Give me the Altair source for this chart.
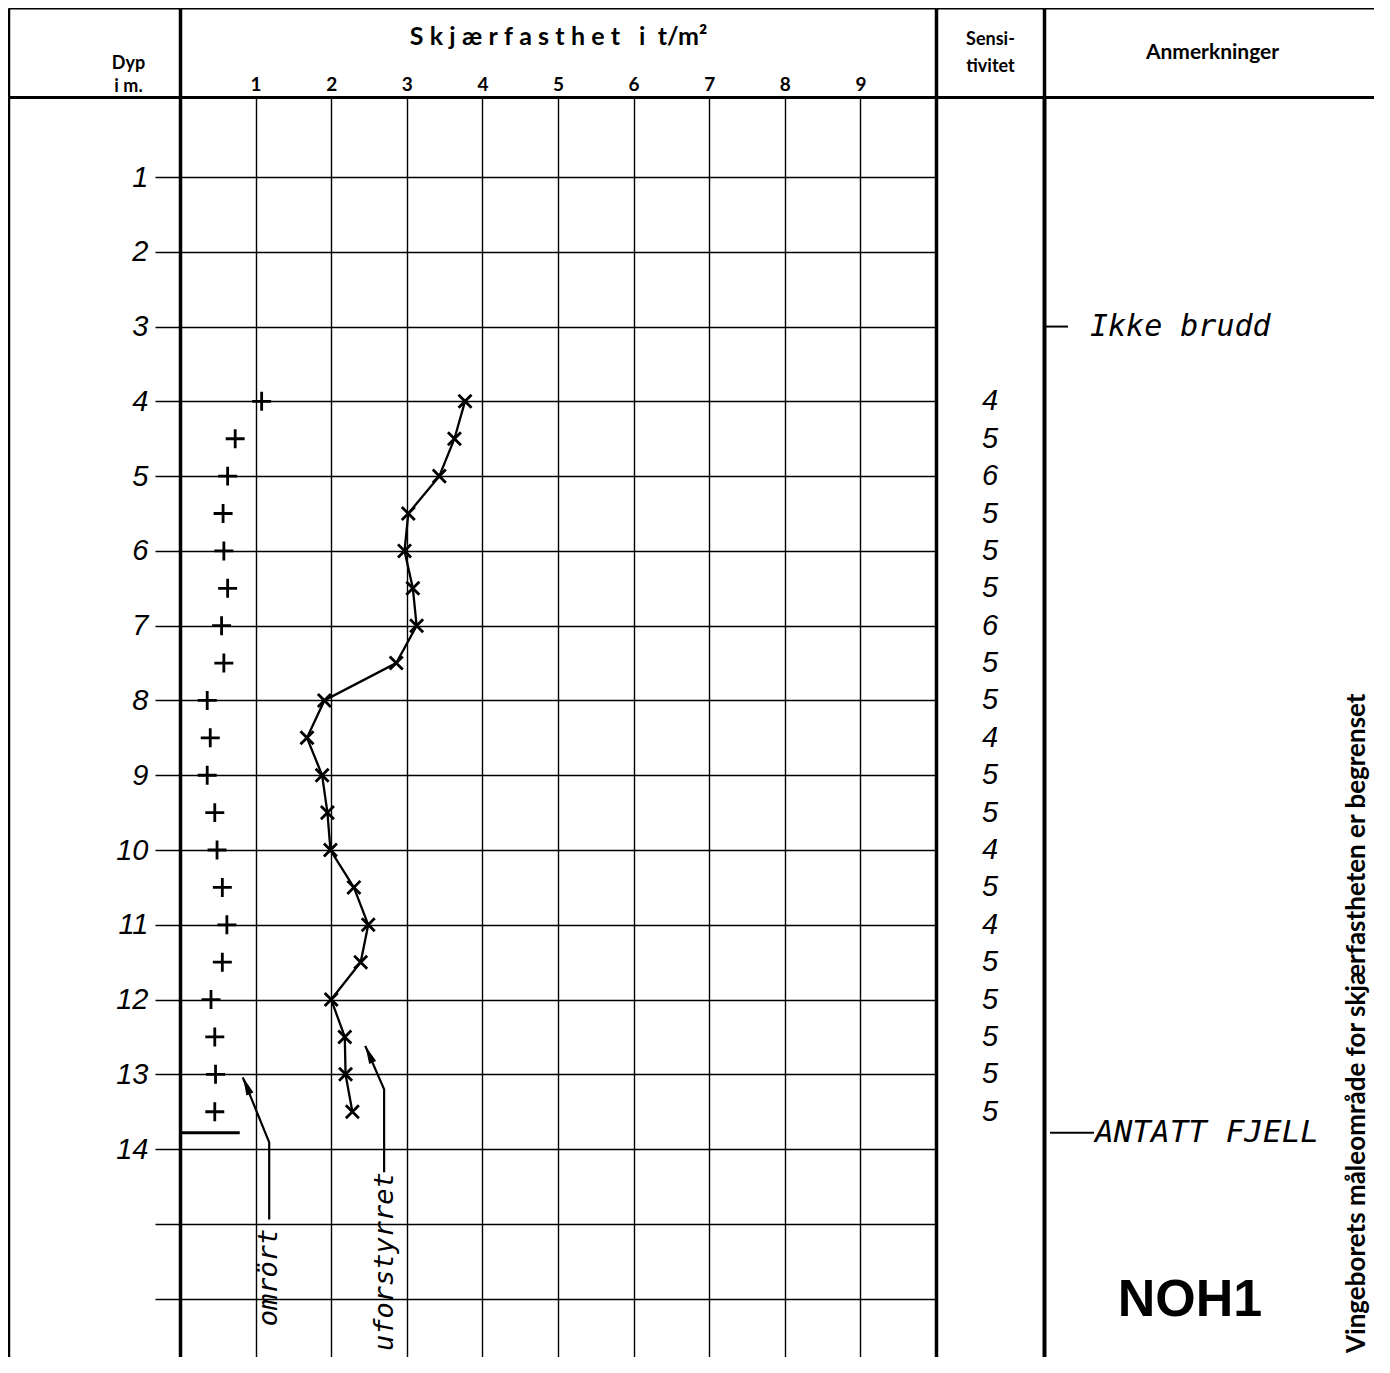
import altair as alt
import pandas as pd

# ---------------- data read from the form ----------------
depth = [4.0, 4.5, 5.0, 5.5, 6.0, 6.5, 7.0, 7.5, 8.0, 8.5, 9.0, 9.5,
         10.0, 10.5, 11.0, 11.5, 12.0, 12.5, 13.0, 13.5]
uforstyrret = [3.77, 3.63, 3.43, 3.02, 2.97, 3.08, 3.13, 2.86, 1.91, 1.68, 1.88, 1.95,
               1.99, 2.30, 2.49, 2.39, 2.00, 2.18, 2.19, 2.28]
omrort = [1.08, 0.73, 0.63, 0.57, 0.58, 0.63, 0.55, 0.58, 0.36, 0.40, 0.36, 0.46,
          0.49, 0.56, 0.62, 0.56, 0.41, 0.46, 0.47, 0.46]
sensitivitet = [4, 5, 6, 5, 5, 5, 6, 5, 5, 4, 5, 5, 4, 5, 4, 5, 5, 5, 5, 5]

depth_ticks = list(range(1, 17))
strength_ticks = list(range(1, 10))

remark_depth = [3.0, 13.78]
remark_text = ["Ikke  brudd", "ANTATT FJELL"]
fjell_depth = 13.78
fjell_strength = [0.0, 0.79]

label_text = ["omrört", "uforstyrret"]
label_x = [1.18, 2.71]
label_y = [16.37, 16.70]

arrow_id = ["omrört", "omrört", "omrört", "uforstyrret", "uforstyrret", "uforstyrret"]
arrow_step = [0, 1, 2, 0, 1, 2]
arrow_x = [1.18, 1.18, 0.83, 2.70, 2.70, 2.45]
arrow_y = [14.94, 13.91, 13.04, 14.31, 13.20, 12.62]
head_x = [0.88, 2.50]
head_y = [13.15, 12.73]
head_angle = [338, 336]

note_text = "Vingeborets måleområde for skjærfastheten er begrenset"
id_text = "NOH1"

# ---------------- layout constants ----------------
BLACK = "#000000"
HDR_H = 89
BODY_H = 1260
W = [172, 756, 108, 330]
YDOM = [-0.07, 16.78]

df = pd.DataFrame({"depth": depth, "uforstyrret": uforstyrret,
                   "omrort": omrort, "sens": sensitivitet})
df_lab = pd.DataFrame({"text": label_text, "x": label_x, "y": label_y})
df_arr = pd.DataFrame({"id": arrow_id, "step": arrow_step, "x": arrow_x, "y": arrow_y})
df_head = pd.DataFrame({"x": head_x, "y": head_y, "ang": head_angle})
dummy = pd.DataFrame({"v": [0]})

ysc = alt.Scale(domain=YDOM, nice=False, zero=False, reverse=True)
xsc = alt.Scale(domain=[0, 10], nice=False, zero=False)
unit = alt.Scale(domain=[0, 1], nice=False, zero=False)

PLUS = "M-1,0L1,0M0,-1L0,1"
XMARK = "M-1,-1L1,1M-1,1L1,-1"
WEDGE = "M0,-1L0.42,1L-0.42,1Z"

SP = "\u2009\u2009"
main_title = SP.join("Skjærfasthet") + "\u2003" + "i" + "\u2002" + "t/m²"


def plain_axis(orient, width, **kw):
    return alt.Axis(orient=orient, labels=False, ticks=False, grid=False,
                    title=kw.pop("title", None), domainWidth=width, domainColor=BLACK, **kw)


# ---------------- header row ----------------
def header_panel(w):
    return alt.Chart(dummy).mark_point(opacity=0).encode(
        x=alt.X(datum=0.5, scale=unit, axis=plain_axis("top", 2)),
        y=alt.Y(datum=0.5, scale=unit, axis=plain_axis("left", 3.5)),
    ).properties(width=w, height=HDR_H)


h1, h2, h3, h4 = [header_panel(w) for w in W]

# ---------------- body: depth column ----------------
b1 = alt.Chart(dummy).mark_point(opacity=0).encode(
    x=alt.X(datum=0.5, scale=unit, axis=plain_axis("top", 3)),
    y=alt.Y(datum=0.5, scale=unit, axis=plain_axis("left", 3.5)),
).properties(width=W[0], height=BODY_H)

# ---------------- body: main plot ----------------
xaxis_main = alt.Axis(
    orient="top", values=strength_ticks, tickSize=0, labelPadding=3,
    labelFont="Lato", labelFontWeight="bold", labelFontSize=19, labelAngle=0,
    grid=True, gridColor=BLACK, gridWidth=1.4, domainWidth=3, domainColor=BLACK,
    title=main_title, titleX=378, titleY=-53, titleAlign="center",
    titleBaseline="alphabetic", titleFont="Lato", titleFontWeight="bold", titleFontSize=25,
)
yaxis_main = alt.Axis(
    orient="left", values=depth_ticks, tickSize=25, tickWidth=1.5,
    labelExpr="datum.value <= 14 ? datum.label : ''",
    labelFont="Liberation Sans", labelFontStyle="italic", labelFontSize=29,
    labelPadding=7, domainWidth=3.5, domainColor=BLACK,
    grid=True, gridColor=BLACK, gridWidth=1.4,
    title=["Dyp", "i m."], titleAngle=0, titleX=-52, titleY=-29, titleAlign="center",
    titleBaseline="alphabetic", titleFont="Lato", titleFontWeight="bold",
    titleFontSize=18, titleLineHeight=23,
)


def MX(field):
    return alt.X(field, type="quantitative", scale=xsc, axis=xaxis_main)


def MY(field):
    return alt.Y(field, type="quantitative", scale=ysc, axis=yaxis_main)


base = alt.Chart(df)
line_u = base.mark_line(color=BLACK, strokeWidth=2.3).encode(
    x=MX("uforstyrret"), y=MY("depth"), order="depth:Q")
pts_u = base.mark_point(shape=XMARK, size=170, strokeWidth=2.8, color=BLACK,
                        filled=False, opacity=1).encode(x=MX("uforstyrret"), y=MY("depth"))
pts_o = base.mark_point(shape=PLUS, size=360, strokeWidth=2.8, color=BLACK,
                        filled=False, opacity=1).encode(x=MX("omrort"), y=MY("depth"))
fjell_rule = alt.Chart(dummy).mark_rule(color=BLACK, strokeWidth=3).encode(
    x=alt.X(datum=fjell_strength[0], scale=xsc, axis=xaxis_main),
    x2=alt.datum(fjell_strength[1]),
    y=alt.Y(datum=fjell_depth, scale=ysc, axis=yaxis_main))
arrows = alt.Chart(df_arr).mark_line(color=BLACK, strokeWidth=2.2).encode(
    x=MX("x"), y=MY("y"), detail="id:N", order="step:Q")
heads = alt.Chart(df_head).mark_point(shape=WEDGE, size=330, filled=True, color=BLACK,
                                      opacity=1).encode(
    x=MX("x"), y=MY("y"), angle=alt.Angle("ang:Q", scale=None))
labels = alt.Chart(df_lab).mark_text(angle=270, align="left", baseline="middle",
                                     font="DejaVu Sans Mono", fontStyle="italic",
                                     fontSize=27, color=BLACK).encode(
    x=MX("x"), y=MY("y"), text="text:N")

b2 = alt.layer(line_u, pts_u, pts_o, fjell_rule, arrows, heads, labels).properties(
    width=W[1], height=BODY_H)

# ---------------- body: sensitivity ----------------
b3 = alt.Chart(df).mark_text(font="Liberation Sans", fontStyle="italic", fontSize=29,
                             color=BLACK).encode(
    x=alt.X(datum=0.5, scale=unit, axis=plain_axis(
        "top", 3, title=["Sensi-", "tivitet"], titleX=54, titleY=-53, titleAlign="center",
        titleBaseline="alphabetic", titleFont="Lato", titleFontWeight="bold",
        titleFontSize=18, titleLineHeight=27, titleColor=BLACK)),
    y=alt.Y("depth:Q", scale=ysc, axis=plain_axis("left", 3.5)),
    text="sens:N",
).properties(width=W[2], height=BODY_H)

# ---------------- body: remarks ----------------
rem_axis_x = plain_axis("top", 3, title="Anmerkninger", titleX=168, titleY=-39,
                        titleAlign="center", titleBaseline="alphabetic", titleFont="Lato",
                        titleFontWeight="bold", titleFontSize=21, titleColor=BLACK)
rem_axis_y = plain_axis("left", 4)

rem_frame = alt.Chart(dummy).mark_point(opacity=0).encode(
    x=alt.X(datum=0.5, scale=unit, axis=rem_axis_x),
    y=alt.Y(datum=8, scale=ysc, axis=rem_axis_y))

df_r0 = pd.DataFrame({"depth": [remark_depth[0]], "text": [remark_text[0]]})
df_r1 = pd.DataFrame({"depth": [remark_depth[1]], "text": [remark_text[1]]})
RY = alt.Y("depth:Q", scale=ysc, axis=rem_axis_y)

r0_tick = alt.Chart(df_r0).mark_rule(color=BLACK, strokeWidth=2).encode(
    x=alt.value(2), x2=alt.value(24), y=RY)
r0_text = alt.Chart(df_r0).mark_text(align="left", baseline="middle", font="DejaVu Sans Mono",
                                     fontStyle="italic", fontSize=30, color=BLACK).encode(
    x=alt.value(46), y=RY, text="text:N")
r1_tick = alt.Chart(df_r1).mark_rule(color=BLACK, strokeWidth=2).encode(
    x=alt.value(6), x2=alt.value(50), y=RY)
r1_text = alt.Chart(df_r1).mark_text(align="left", baseline="middle", font="DejaVu Sans Mono",
                                     fontStyle="italic", fontSize=31, color=BLACK).encode(
    x=alt.value(51), y=RY, text="text:N")
noh = alt.Chart(dummy).mark_text(font="Liberation Sans", fontWeight="bold", fontSize=52,
                                 color=BLACK, baseline="middle", align="center").encode(
    x=alt.value(146), y=alt.value(1203), text=alt.value(id_text))
note = alt.Chart(dummy).mark_text(angle=270, align="left", baseline="middle", font="Lato",
                                  fontWeight="bold", fontSize=26, color=BLACK).encode(
    x=alt.value(313), y=alt.value(1256), text=alt.value(note_text))

b4 = alt.layer(rem_frame, r0_tick, r0_text, r1_tick, r1_text, noh, note).properties(
    width=W[3], height=BODY_H)

chart = alt.concat(h1, h2, h3, h4, b1, b2, b3, b4, columns=4, spacing=0,
                   bounds="flush").properties(
    padding=0, background="white"
).configure_view(stroke=None).configure_axis(
    domainColor=BLACK, tickColor=BLACK, gridColor=BLACK, labelColor=BLACK, titleColor=BLACK
)

chart.save("out.html", embed_options={"renderer": "svg", "actions": False})
